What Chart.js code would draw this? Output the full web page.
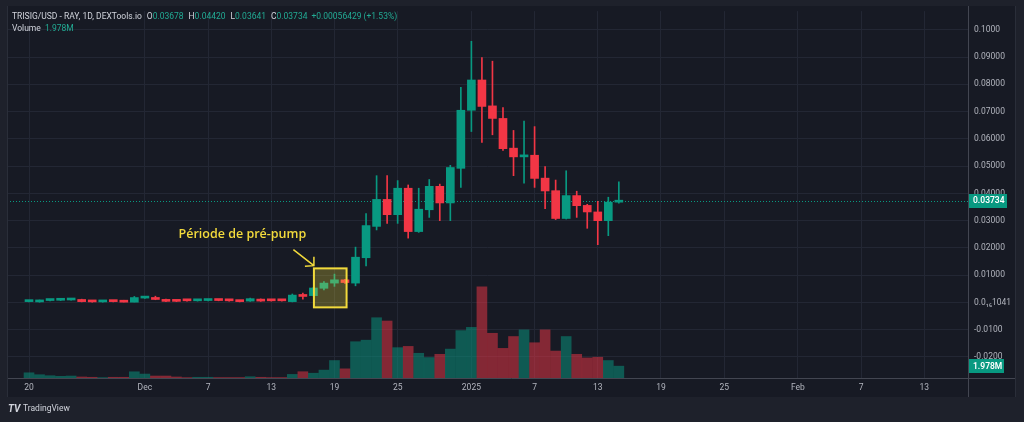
<!DOCTYPE html>
<html>
<head>
<meta charset="utf-8">
<script src="https://cdn.jsdelivr.net/npm/chart.js@4.4.1/dist/chart.umd.min.js"></script>
<style>
  html, body { margin: 0; padding: 0; background: #1e212b; }
  canvas { display: block; }
</style>
</head>
<body>
<canvas id="chart" width="1024" height="422"></canvas>
<script>
// daily candles, 20 Nov 2024 -> 15 Jan 2025 (index 0 = 20 Nov)
const opens = [
  0.0003, 0.0002, 0.0007, 0.0008, 0.0009, 0.0011, 0.0004, 0.0002, 0.0004, 0.0004,
  0.0001, 0.0016, 0.0018, 0.0011, 0.0006, 0.0007, 0.0006, 0.0007, 0.0008, 0.0007,
  0.0005, 0.0005, 0.0012, 0.0007, 0.0007, 0.0003, 0.0028, 0.0025, 0.0052, 0.0071,
  0.0083, 0.0071, 0.0164, 0.0279, 0.0378, 0.0322, 0.0419, 0.0260, 0.0340, 0.0426,
  0.0365, 0.0492, 0.0705, 0.0816, 0.0721, 0.0675, 0.0566, 0.0534, 0.0540, 0.0456,
  0.0410, 0.0308, 0.0392, 0.0356, 0.0332, 0.0300, 0.03678
];
const highs = [
  0.0005, 0.0009, 0.0009, 0.0012, 0.0013, 0.0012, 0.0005, 0.0004, 0.0005, 0.0008,
  0.0022, 0.0022, 0.0023, 0.0012, 0.0007, 0.0008, 0.0008, 0.0009, 0.0009, 0.0008,
  0.0006, 0.0016, 0.0013, 0.0008, 0.0008, 0.0031, 0.0034, 0.0055, 0.0077, 0.0104,
  0.0085, 0.0203, 0.0326, 0.0465, 0.0465, 0.0447, 0.0431, 0.0419, 0.0451, 0.0434,
  0.0503, 0.0789, 0.0958, 0.0898, 0.0885, 0.0715, 0.0631, 0.0665, 0.0645, 0.0498,
  0.0449, 0.0483, 0.0408, 0.0360, 0.0371, 0.0386, 0.04420
];
const lows = [
  0.0002, 0.0001, 0.0006, 0.0007, 0.0008, 0.0002, 0.0001, 0.0001, 0.0002, 0.0000,
  0.0000, 0.0015, 0.0010, 0.0003, 0.0003, 0.0005, 0.0005, 0.0006, 0.0006, 0.0005,
  0.0002, 0.0004, 0.0004, 0.0005, 0.0005, 0.0002, 0.0012, 0.0024, 0.0046, 0.0059,
  0.0070, 0.0061, 0.0134, 0.0266, 0.0290, 0.0290, 0.0236, 0.0257, 0.0312, 0.0300,
  0.0300, 0.0422, 0.0627, 0.0587, 0.0615, 0.0558, 0.0465, 0.0438, 0.0422, 0.0344,
  0.0304, 0.0306, 0.0312, 0.0272, 0.0212, 0.0245, 0.03641
];
const closes = [
  0.0004, 0.0008, 0.0008, 0.0010, 0.0011, 0.0003, 0.0002, 0.0003, 0.0003, 0.0001,
  0.0018, 0.0019, 0.0011, 0.0004, 0.0004, 0.0006, 0.0007, 0.0008, 0.0007, 0.0006,
  0.0003, 0.0014, 0.0005, 0.0006, 0.0006, 0.0027, 0.0022, 0.0053, 0.0071, 0.0083,
  0.0073, 0.0166, 0.0282, 0.0378, 0.0322, 0.0419, 0.0260, 0.0342, 0.0426, 0.0365,
  0.0495, 0.0705, 0.0816, 0.0719, 0.0675, 0.0564, 0.0534, 0.0540, 0.0455, 0.0409,
  0.0308, 0.0392, 0.0355, 0.0332, 0.0300, 0.0368, 0.03734
];
// volume in millions
const volumes = [
  0.87, 0.55, 0.38, 0.28, 0.33, 0.17, 0.12, 0.06, 0.12, 0.12,
  1.04, 0.66, 0.33, 0.33, 0.17, 0.06, 0.12, 0.12, 0.07, 0.07,
  0.07, 0.21, 0.12, 0.07, 0.07, 0.60, 1.05, 0.80, 1.32, 2.92,
  1.53, 6.06, 6.32, 10.07, 9.52, 5.07, 5.28, 4.13, 3.42, 3.96,
  4.83, 7.92, 8.46, 15.23, 7.47, 4.95, 6.93, 8.04, 5.89, 8.04,
  4.50, 6.93, 3.96, 3.35, 3.47, 2.92, 1.978
];

// axis ticks
const xTickDays = [0, 11, 17, 23, 29, 35, 42, 48, 54, 60, 66, 73, 79, 85];
const xTickLabels = ["20", "Dec", "7", "13", "19", "25", "2025", "7", "13", "19", "25", "Feb", "7", "13"];
const priceTicks = [-0.02, -0.01, 0, 0.01, 0.02, 0.03, 0.04, 0.05, 0.06, 0.07, 0.08, 0.09, 0.1];
const priceTickLabels = ["-0.0200", "-0.0100", "0.0\u2081\u20861041", "0.01000", "0.02000", "0.03000",
  "0.04000", "0.05000", "0.06000", "0.07000", "0.08000", "0.09000", "0.1000"];

const lastPrice = 0.03734;
const lastVolume = 1.978;

const UP = "#089981";
const DOWN = "#f23645";
const GRID = "#232734";
const TEXT = "#b2b5be";
const FONT = "Roboto, 'Open Sans', sans-serif";

const candleColors = opens.map((o, i) => closes[i] >= o ? UP : DOWN);
const volumeColors = opens.map((o, i) => closes[i] >= o ? "rgba(8,153,129,0.5)" : "rgba(242,54,69,0.5)");

// the "pré-pump" note, in data units
const noteBox = { x0: 27.05, x1: 30.15, y0: -0.0018, y1: 0.0125 };
const noteText = { x: 14.2, y: 0.0237, text: "Période de pré-pump" };
const noteArrow = { x0: 25.1, y0: 0.0194, x1: 27.05, y1: 0.0135 };

const frame = {
  id: "frame",
  beforeDraw(chart) {
    const c = chart.ctx;
    c.save();
    c.fillStyle = "#1e212b";
    c.fillRect(0, 0, chart.width, chart.height);
    c.fillStyle = "#171a24";
    c.fillRect(7, 6, 1009, 391);
    c.restore();
  },
  beforeDatasetsDraw(chart) {
    const c = chart.ctx;
    const a = chart.chartArea;
    const y = chart.scales.y.getPixelForValue(lastPrice);
    c.save();
    c.strokeStyle = UP;
    c.lineWidth = 1;
    c.setLineDash([1, 2]);
    c.beginPath();
    c.moveTo(a.left, Math.round(y) + 0.5);
    c.lineTo(a.right, Math.round(y) + 0.5);
    c.stroke();
    c.restore();
  },
  afterDraw(chart) {
    const c = chart.ctx;
    const a = chart.chartArea;
    const xs = chart.scales.x, ys = chart.scales.y, vs = chart.scales.vol;
    c.save();

    // pane separators
    c.strokeStyle = "#434651";
    c.lineWidth = 1;
    c.beginPath();
    c.moveTo(a.left, a.bottom + 0.5);
    c.lineTo(1016, a.bottom + 0.5);
    c.moveTo(a.right + 0.5, 6);
    c.lineTo(a.right + 0.5, 397);
    c.stroke();
    c.strokeStyle = "#2a2e39";
    c.beginPath();
    c.moveTo(7.5, 6);
    c.lineTo(7.5, 397);
    c.moveTo(1015.5, 6);
    c.lineTo(1015.5, 397);
    c.stroke();

    // note box, arrow and text
    const bx0 = xs.getPixelForValue(noteBox.x0), bx1 = xs.getPixelForValue(noteBox.x1);
    const by0 = ys.getPixelForValue(noteBox.y1), by1 = ys.getPixelForValue(noteBox.y0);
    c.fillStyle = "rgba(255,235,59,0.25)";
    c.fillRect(bx0, by0, bx1 - bx0, by1 - by0);
    c.strokeStyle = "#f2da3c";
    c.lineWidth = 2;
    c.strokeRect(bx0, by0, bx1 - bx0, by1 - by0);

    const ax0 = xs.getPixelForValue(noteArrow.x0), ay0 = ys.getPixelForValue(noteArrow.y0);
    const ax1 = xs.getPixelForValue(noteArrow.x1), ay1 = ys.getPixelForValue(noteArrow.y1);
    c.lineWidth = 1.5;
    c.beginPath();
    c.moveTo(ax0, ay0);
    c.lineTo(ax1, ay1);
    c.moveTo(ax1 - 9, ay1 + 0.5);
    c.lineTo(ax1, ay1);
    c.lineTo(ax1, ay1 - 9);
    c.stroke();

    c.fillStyle = "#f2da3c";
    c.font = "600 12.5px 'Open Sans', sans-serif";
    c.textBaseline = "alphabetic";
    c.textAlign = "left";
    c.fillText(noteText.text, xs.getPixelForValue(noteText.x), ys.getPixelForValue(noteText.y));

    // last price / volume badges
    const badge = (txt, yc, w) => {
      c.fillStyle = UP;
      c.fillRect(a.right + 1, Math.round(yc) - 7, w, 14);
      c.fillStyle = "#ffffff";
      c.font = "600 8.5px " + FONT;
      c.textBaseline = "middle";
      c.textAlign = "left";
      c.fillText(txt, a.right + 5, yc + 0.5);
    };
    badge(lastPrice.toFixed(5), ys.getPixelForValue(lastPrice), 38);
    badge(lastVolume.toFixed(3) + "M", vs.getPixelForValue(lastVolume), 35);

    // legend lines
    c.textBaseline = "middle";
    c.textAlign = "left";
    c.font = "8.5px " + FONT;
    let x = 12;
    const seg = (txt, col, gap) => {
      c.fillStyle = col;
      c.fillText(txt, x, 17);
      x += c.measureText(txt).width + gap;
    };
    const last = opens.length - 1;
    seg("TRISIG/USD - RAY, 1D, DEXTools.io", "#d1d4dc", 5);
    seg("O", "#d1d4dc", 0); seg(opens[last].toFixed(5), "#22ab94", 5);
    seg("H", "#d1d4dc", 0); seg(highs[last].toFixed(5), "#22ab94", 5);
    seg("L", "#d1d4dc", 0); seg(lows[last].toFixed(5), "#22ab94", 5);
    seg("C", "#d1d4dc", 0); seg(closes[last].toFixed(5), "#22ab94", 4);
    seg("+0.00056429 (+1.53%)", "#22ab94", 0);
    c.fillStyle = "#d1d4dc";
    c.fillText("Volume", 12, 29);
    c.fillStyle = "#22ab94";
    c.fillText(lastVolume.toFixed(3) + "M", 45, 29);

    // footer
    c.fillStyle = "#d1d4dc";
    c.font = "bold italic 10px " + FONT;
    c.fillText("TV", 8, 409);
    c.font = "8.5px " + FONT;
    c.fillText("TradingView", 23, 409);
    c.restore();
  }
};

new Chart(document.getElementById("chart"), {
  type: "bar",
  data: {
    datasets: [
      {
        label: "Volume",
        data: volumes.map((v, i) => ({ x: i, y: v })),
        yAxisID: "vol",
        backgroundColor: volumeColors,
        barThickness: 10,
        grouped: false,
        order: 3
      },
      {
        label: "Wick",
        data: highs.map((h, i) => ({ x: i, y: [lows[i], h] })),
        yAxisID: "y",
        backgroundColor: candleColors,
        barThickness: 1,
        grouped: false,
        order: 2
      },
      {
        label: "Body",
        data: opens.map((o, i) => ({ x: i, y: [o, closes[i]] })),
        yAxisID: "y",
        backgroundColor: candleColors,
        barThickness: 8,
        minBarLength: 2,
        grouped: false,
        order: 1
      }
    ]
  },
  options: {
    responsive: false,
    animation: false,
    layout: { padding: { left: 7, right: 8, top: 6, bottom: 25 } },
    plugins: { legend: { display: false }, tooltip: { enabled: false } },
    scales: {
      x: {
        type: "linear",
        min: -2.09,
        max: 89.15,
        offset: false,
        afterBuildTicks: s => { s.ticks = xTickDays.map(v => ({ value: v })); },
        afterFit: s => { s.height = 19; },
        grid: { color: GRID, drawTicks: false, offset: false },
        border: { display: false },
        ticks: {
          callback: (v, i) => xTickLabels[i],
          color: TEXT,
          font: { family: FONT, size: 8.5 },
          padding: 5,
          maxRotation: 0,
          autoSkip: false
        }
      },
      y: {
        position: "right",
        min: -0.02771,
        max: 0.10687,
        afterBuildTicks: s => { s.ticks = priceTicks.map(v => ({ value: v })); },
        afterFit: s => { s.width = 48; },
        grid: { color: GRID, drawTicks: false },
        border: { display: false },
        ticks: {
          callback: (v, i) => priceTickLabels[i],
          color: TEXT,
          font: { family: FONT, size: 8.5 },
          padding: 6
        }
      },
      vol: {
        display: false,
        min: 0,
        max: 61.3
      }
    }
  },
  plugins: [frame]
});
</script>
</body>
</html>
